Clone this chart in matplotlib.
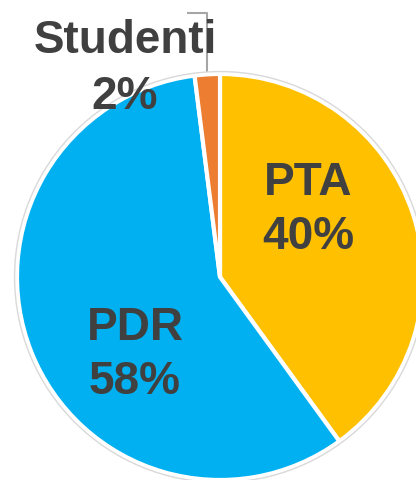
import numpy as np
import matplotlib
matplotlib.use("Agg")
import matplotlib.pyplot as plt

labels = ["PTA", "PDR", "Studenti"]
shares = [40, 58, 2]
colors = ["#FFC000", "#00B0F0", "#ED7D31"]

plt.rcParams["font.family"] = ["Liberation Sans", "DejaVu Sans"]
TXT = "#404040"

fig = plt.figure(figsize=(4.16, 4.81), dpi=100)
ax = fig.add_axes([0, 0, 1, 1])

# pie centre at (220, 278) px, radius 203 px
R = 203.0
wedges, _ = ax.pie(shares, colors=colors, startangle=90, counterclock=False,
                   radius=1.0, center=(0, 0), frame=True,
                   wedgeprops=dict(edgecolor="white", linewidth=3))
ax.set_xlim(-220 / R, (416 - 220) / R)
ax.set_ylim(-(481 - 278) / R, 278 / R)
ax.set_aspect("auto")
ax.axis("off")

# thin outer ring
ax.add_artist(plt.Circle((0, 0), 1.012, fill=False, color="#D9D9D9", linewidth=1.0))

fs = 33
ax.text(0.433, 0.335, f"{labels[0]}\n{shares[0]}%", ha="center", va="center",
        fontsize=fs, fontweight="bold", color=TXT, linespacing=1.27)
ax.text(-0.419, -0.379, f"{labels[1]}\n{shares[1]}%", ha="center", va="center",
        fontsize=fs, fontweight="bold", color=TXT, linespacing=1.27)
ax.text(-0.468, 1.03, f"{labels[2]}\n{shares[2]}%", ha="center", va="center",
        fontsize=fs, fontweight="bold", color=TXT, linespacing=1.33)

# leader line for the small slice
w = wedges[2]
mid = np.deg2rad((w.theta1 + w.theta2) / 2)
lx = np.cos(mid)
ax.plot([lx, lx, lx - 0.1], [1.01, 1.30, 1.30], color="#A6A6A6", linewidth=1.5,
        solid_capstyle="butt", zorder=0)

fig.savefig("out.png", dpi=100)
